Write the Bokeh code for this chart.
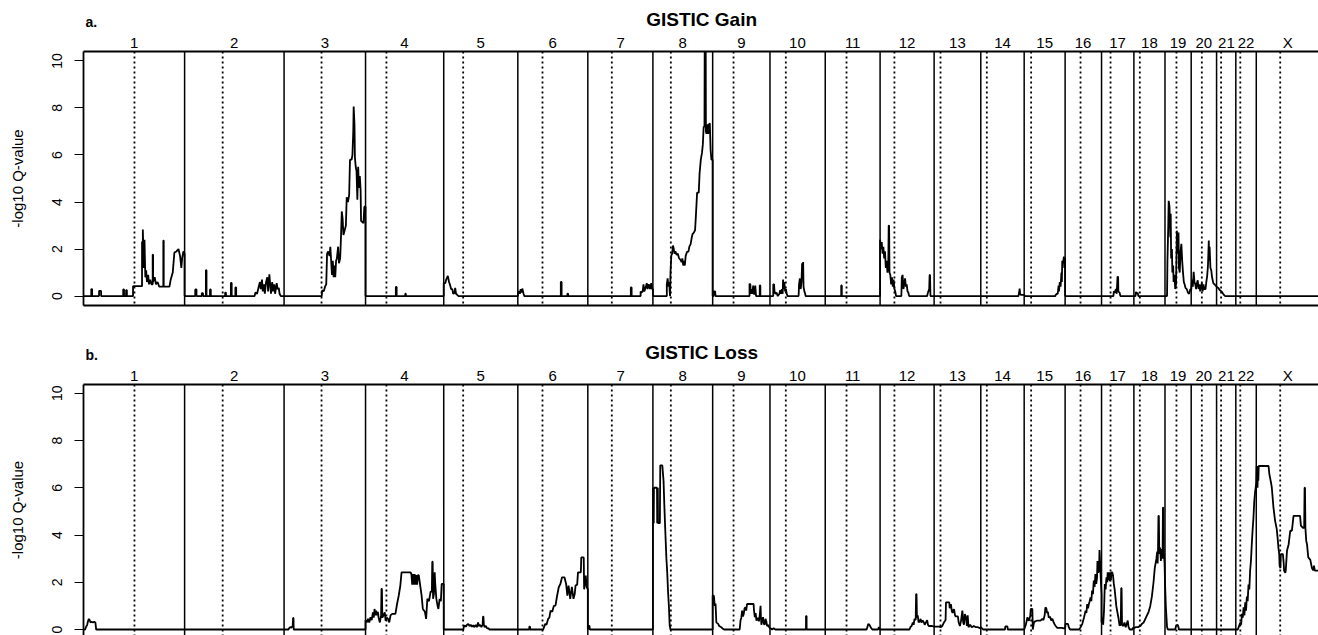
from bokeh.plotting import figure
from bokeh.models import Range1d, LinearAxis, FixedTicker, Span, Label
from bokeh.layouts import column
from bokeh.embed import file_html
from bokeh.resources import INLINE

# ---------------- data ----------------
chrom_names = ["1", "2", "3", "4", "5", "6", "7", "8", "9", "10", "11", "12",
               "13", "14", "15", "16", "17", "18", "19", "20", "21", "22", "X"]
chrom_len_mb = [247, 243, 199, 191, 181, 171, 159, 146, 140, 135, 134, 132,
                114, 106, 100, 89, 79, 76, 64, 62, 47, 50, 155]
centromere_mb = [124.5, 93, 91.5, 51, 47.5, 60.3, 58.6, 43.8, 51, 38.7, 52, 35,
                 15.6, 14.7, 17, 37.7, 22, 14.5, 28, 26, 11, 11, 58.5]
y_ticks = [0, 2, 4, 6, 8, 10]

# GISTIC gain profile: (genome position in Mb, -log10 q)
gain_profile = [
    (0, 0), (19, 0), (19, 0.3), (21, 0.3), (21, 0), (38, 0), (38, 0.22), (43, 0.22), (43, 0),
    (97, 0), (97, 0.28), (99, 0.28), (99, 0), (104, 0), (104, 0.25), (106, 0.25), (106, 0),
    (121, 0), (121, 0.42), (143, 0.42), (143, 2.3), (145, 2.3), (145, 2.83), (147, 1.2),
    (149, 2.4), (151, 0.8), (153, 1.1), (155, 0.6), (158, 0.9), (160, 0.5), (163, 0.7),
    (166, 0.5), (169, 0.5), (169, 1.76), (170, 1.76), (170, 0.6), (174, 0.8), (177, 0.5),
    (181, 0.6), (185, 0.4), (195, 0.4), (195, 2.36), (196, 2.36), (196, 0.4), (210, 0.4),
    (213, 0.7), (218, 1.0), (222, 1.85), (227, 1.9), (232, 2.0), (236, 1.7), (239, 1.2),
    (241, 1.6), (244, 1.9), (247, 1.8), (247, 0),
    (273, 0), (273, 0.28), (276, 0.28), (276, 0), (289, 0), (289, 0.12), (292, 0.12), (292, 0),
    (299, 0), (299, 1.1), (300.5, 1.1), (300.5, 0), (309, 0), (309, 0.28), (311, 0.28), (311, 0),
    (346, 0), (346, 0.15), (348, 0.15), (348, 0), (360, 0), (360, 0.56), (362, 0.56), (362, 0),
    (371, 0), (371, 0.37), (373, 0.37), (373, 0), (418, 0), (420, 0.15), (424, 0.1), (428, 0.4),
    (431, 0.6), (433, 0.3), (436, 0.7), (438, 0.2), (441, 0.5), (443, 0.1), (446, 0.6),
    (449, 0.8), (451, 0.2), (454, 0.93), (456, 0.5), (458, 0.1), (461, 0.6), (463, 0.2),
    (466, 0.5), (468, 0.1), (472, 0.55), (474, 0.3), (477, 0.35), (479, 0.1), (482, 0), (490, 0),
    (582, 0), (583, 0.25), (587, 0.2), (590, 0.4), (593, 0.5), (595, 1.8), (598, 1.9),
    (601, 1.7), (603, 2.1), (605, 1.5), (607, 0.9), (609, 1.5), (611, 0.8), (613, 1.3),
    (615, 0.8), (617, 1.5), (619, 1.6), (622, 2.1), (624, 1.4), (627, 1.6), (629, 2.5),
    (631, 3.6), (633, 3.3), (635, 2.6), (638, 2.8), (641, 3.0), (643, 4.2), (646, 4.0),
    (649, 4.3), (651, 5.8), (655, 5.8), (657, 6.0), (659, 7.0), (660, 8.06), (662, 7.3),
    (663, 5.9), (665, 5.5), (667, 5.3), (669, 4.1), (671, 5.5), (673, 4.6), (675, 5.1),
    (677, 4.5), (678, 3.2), (684, 3.1), (686, 3.8), (689, 3.8), (689, 0),
    (763, 0), (763, 0.39), (765, 0.39), (765, 0), (786, 0), (786, 0.1), (787.5, 0.1), (787.5, 0),
    (880, 0), (880, 0.55), (884, 0.55), (886, 0.7), (890, 0.86), (893, 0.6), (895, 0.5),
    (898, 0.3), (901, 0.3), (903, 0.1), (906, 0.12), (908, 0.35), (910, 0.1), (913, 0.05),
    (916, 0), (1061, 0),
    (1062, 0.15), (1064, 0.2), (1066, 0.1), (1068, 0.3), (1070, 0.15), (1072, 0.32),
    (1075, 0.1), (1077, 0), (1166, 0), (1166, 0.6), (1168, 0.6), (1168, 0), (1182, 0),
    (1182, 0.1), (1184, 0.1), (1184, 0), (1232, 0),
    (1337, 0), (1337, 0.37), (1339, 0.37), (1339, 0), (1361, 0), (1361, 0.2), (1363, 0.15),
    (1366, 0.2), (1368, 0.5), (1370, 0.2), (1373, 0.35), (1376, 0.55), (1378, 0.3),
    (1381, 0.5), (1384, 0.3), (1387, 0.55), (1389, 0.3), (1391, 0.3), (1391, 0),
    (1425, 0), (1425, 0.5), (1427, 0.75), (1429, 0.4), (1431, 0.6), (1432, 0.2), (1433, 0),
    (1434, 1.0), (1436, 1.73), (1438, 1.8), (1440, 2.15), (1442, 2.0), (1444, 1.8),
    (1446, 1.9), (1449, 1.75), (1452, 1.8), (1455, 1.6), (1458, 1.55), (1461, 1.45),
    (1463, 1.6), (1465, 1.3), (1467, 1.5), (1469, 1.3), (1471, 1.7), (1474, 1.87),
    (1478, 1.9), (1480, 2.1), (1483, 2.2), (1486, 2.5), (1488, 2.64), (1491, 2.7),
    (1494, 2.8), (1496, 3.4), (1499, 4.4), (1503, 4.4), (1505, 5.2), (1508, 5.8),
    (1511, 6.1), (1513, 6.45), (1515, 7.2), (1517, 7.2), (1517.5, 10.6), (1520, 10.6),
    (1520.5, 7.0), (1522, 6.9), (1524, 7.3), (1526, 6.9), (1528, 7.3), (1530, 7.35),
    (1532, 6.2), (1534, 5.8), (1537, 5.8), (1537, 0),
    (1539, 0), (1540, 0.2), (1543, 0.2), (1544, 0), (1627, 0), (1627, 0.53), (1629, 0.5),
    (1630, 0.1), (1632, 0.3), (1634, 0.1), (1636, 0.45), (1637, 0.1), (1640, 0.1),
    (1641, 0.45), (1643, 0), (1652, 0), (1652, 0.45), (1653.5, 0.45), (1653.5, 0), (1677, 0),
    (1685, 0), (1685, 0.5), (1687, 0.5), (1688, 0.2), (1690, 0.1), (1693, 0.15), (1696, 0),
    (1700, 0.1), (1702, 0.25), (1704, 0.1), (1706, 0.3), (1708, 0.1), (1709, 0.7),
    (1710, 0.3), (1712, 0.6), (1714, 0.2), (1716, 0.3), (1718, 0.1), (1720, 0), (1747, 0),
    (1748, 0.5), (1750, 0.75), (1752, 0.3), (1754, 0.6), (1755.5, 1.4), (1757, 1.0),
    (1758, 1.45), (1759, 0.4), (1761, 0.2), (1763, 0.1), (1764, 0), (1812, 0),
    (1851, 0), (1851, 0.45), (1852.5, 0.45), (1852.5, 0), (1946, 0),
    (1946, 2.4), (1948, 2.0), (1950, 2.3), (1952, 1.8), (1954, 2.1), (1956, 1.6), (1958, 1.9),
    (1960, 1.2), (1962, 1.5), (1964, 1.0), (1966, 1.3), (1967, 3.0), (1968, 3.0), (1969, 1.0),
    (1971, 0.9), (1973, 0.5), (1975, 0.8), (1977, 0.4), (1979, 0.7), (1981, 0.3), (1983, 0.2),
    (1985, 0), (1998, 0), (1999, 0.8), (2001, 0.9), (2003, 0.3), (2005, 0.5), (2007, 0.75),
    (2009, 0.4), (2011, 0.5), (2013, 0.2), (2015, 0.15), (2017, 0), (2061, 0), (2062, 0.1),
    (2064, 0.2), (2066, 0.3), (2067, 0.9), (2068, 0.9), (2069, 0), (2078, 0),
    (2284, 0), (2285, 0.1), (2287, 0.32), (2288, 0.1), (2290, 0.05), (2298, 0.05), (2300, 0),
    (2374, 0), (2375, 0.05), (2378, 0.1), (2380, 0.1), (2382, 0.45), (2383, 0.2), (2385, 0.6),
    (2387, 0.4), (2389, 1.0), (2390, 0.6), (2391, 1.5), (2393, 1.4), (2395, 1.68), (2396, 1.2),
    (2397, 1.6), (2398, 1.6), (2398, 0),
    (2516, 0), (2517, 0.2), (2520, 0.15), (2522, 0.3), (2524, 0.1), (2526, 0.82),
    (2527.5, 0.82), (2528, 0.2), (2531, 0.15), (2533, 0), (2570, 0),
    (2571, 0.18), (2573, 0.1), (2575, 0.15), (2577, 0), (2647, 0),
    (2648, 1.5), (2650, 3.0), (2651, 4.05), (2653, 3.8), (2655, 2.5), (2656, 3.5), (2657, 1.6),
    (2659, 2.0), (2660, 1.0), (2662, 1.3), (2663, 0.6), (2665, 0.9), (2667, 0.3), (2669, 0.5),
    (2671, 2.78), (2673, 1.8), (2675, 2.7), (2676, 1.2), (2678, 1.0), (2680, 1.9),
    (2682, 2.22), (2684, 1.5), (2686, 1.0), (2688, 0.6), (2690, 0.5), (2692, 0.35),
    (2695, 0.3), (2698, 0.15), (2701, 0.1), (2704, 0.3), (2706, 0.25),
    (2708, 0.7), (2710, 0.4), (2712, 1.03), (2714, 0.6), (2716, 0.5), (2718, 0.3), (2720, 0.55),
    (2722, 0.67), (2724, 0.3), (2726, 0.5), (2728, 0.2), (2730, 0.4), (2732, 0.55), (2734, 0.2),
    (2736, 0.5), (2738, 0.3), (2741, 0.3), (2743, 0.6), (2745, 0.85), (2747, 1.3), (2749, 2.36),
    (2750, 1.5), (2751, 2.1), (2753, 1.2), (2755, 1.1), (2757, 0.8), (2760, 0.55), (2763, 0.5),
    (2765, 0.46), (2768, 0.4), (2772, 0.35), (2776, 0.25), (2780, 0.2), (2784, 0.1),
    (2787, 0.03), (2789, 0), (3020, 0),
]

# GISTIC loss profile: (genome position in Mb, -log10 q)
loss_profile = [
    (0, 0), (4, 0), (6, 0.1), (9, 0.2), (11, 0.35), (13, 0.45), (15, 0.4), (17, 0.3), (20, 0.33),
    (23, 0.3), (26, 0.33), (29, 0.3), (31, 0), (501, 0), (502, 0.05), (505, 0.1), (508, 0.08),
    (511, 0.15), (512, 0.49), (513, 0.49), (513.5, 0), (689, 0),
    (689, 0.4), (692, 0.3), (695, 0.45), (698, 0.3), (701, 0.52), (704, 0.4), (707, 0.73),
    (709, 0.5), (711, 0.87), (713, 0.6), (715, 0.8), (717, 0.6), (719, 0.75), (721, 0.5),
    (724, 0.3), (727, 0.6), (728, 1.72), (729, 1.72), (730, 0.5), (733, 0.6), (736, 0.73),
    (738, 0.38), (741, 0.5), (744, 0.45), (747, 0.3), (750, 0.6), (754, 0.66), (762, 0.66),
    (766, 1.08), (770, 1.43), (774, 1.86), (777, 2.42), (799, 2.42), (801, 2.35), (803, 1.9),
    (805, 2.35), (807, 1.9), (809, 2.35), (811, 1.9), (813, 2.3), (815, 1.9), (817, 2.3),
    (819, 2.3), (823, 1.8), (826, 1.43), (829, 0.87), (834, 0.75), (837, 0.45), (840, 1.3),
    (844, 1.2), (848, 1.6), (851, 1.6), (852, 2.87), (853, 2.87), (854, 1.3), (856, 1.5),
    (858, 2.42), (859, 2.0), (862, 1.3), (865, 1.0), (867, 0.87), (870, 1.3), (873, 1.2),
    (875, 1.93), (880, 1.93), (880, 0),
    (928, 0), (929, 0.1), (931, 0.17), (934, 0.12), (937, 0.2), (940, 0.24), (943, 0.15),
    (946, 0.2), (949, 0.12), (952, 0.18), (955, 0.1), (958, 0.2), (961, 0.1), (964, 0.3),
    (966, 0.15), (969, 0.2), (972, 0.1), (975, 0.2), (976, 0.55), (977, 0.55), (978, 0.2),
    (980, 0.1), (983, 0.15), (986, 0.05), (990, 0.05), (991, 0), (1089, 0), (1089, 0.12),
    (1091, 0.12), (1091, 0), (1123, 0), (1125, 0.1), (1128, 0.24), (1131, 0.2), (1135, 0.45),
    (1138, 0.5), (1141, 0.8), (1145, 0.75), (1149, 1.0), (1153, 1.01), (1157, 1.43),
    (1161, 1.79), (1165, 1.93), (1169, 2.21), (1175, 2.21), (1179, 1.93), (1182, 1.43),
    (1185, 1.86), (1189, 1.3), (1193, 1.8), (1197, 1.3), (1200, 1.5), (1202, 1.86),
    (1206, 1.9), (1208, 2.42), (1215, 2.42), (1216, 3.05), (1222, 3.05), (1223, 1.7),
    (1225, 2.0), (1227, 2.28), (1229, 1.8), (1232, 1.7), (1232, 0),
    (1233, 0.15), (1236, 0.15), (1237, 0), (1391, 0),
    (1391, 4.5), (1391.5, 6.0), (1392, 4.5), (1392.5, 6.0), (1393, 4.5), (1393.5, 6.0),
    (1401, 6.0), (1401.5, 4.5), (1402, 6.0), (1402.5, 4.5), (1403, 6.0), (1403.5, 4.5),
    (1408, 4.5), (1409, 6.95), (1414, 6.95), (1416, 6.5), (1417, 6.3), (1419, 5.23),
    (1421, 4.3), (1424, 3.0), (1426, 2.42), (1428, 1.6), (1430, 1.01), (1432, 0.17),
    (1434, 0), (1537, 0),
    (1537, 1.43), (1540, 1.43), (1542, 1.0), (1544, 1.1), (1546, 0.3), (1550, 0.25),
    (1553, 0.15), (1558, 0.1), (1562, 0.03), (1565, 0), (1603, 0), (1605, 0.38), (1607, 0.5),
    (1609, 0.8), (1611, 0.55), (1613, 0.67), (1615, 0.9), (1617, 0.94), (1619, 0.8),
    (1621, 1.08), (1637, 1.08), (1638, 0.8), (1640, 0.52), (1642, 0.7), (1644, 0.38),
    (1647, 0.5), (1650, 0.35), (1652, 0.6), (1654, 1.0), (1655, 0.5), (1656, 0.2),
    (1658, 0.4), (1660, 0.52), (1662, 0.25), (1664, 0.2), (1666, 0.45), (1668, 0.35),
    (1670, 0.15), (1673, 0.2), (1675, 0.1), (1677, 0.05),
    (1679, 0.05), (1682, 0), (1686, 0.05), (1690, 0), (1765, 0), (1765, 0.57), (1766.5, 0.57),
    (1766.5, 0), (1812, 0),
    (1913, 0), (1915, 0.1), (1917, 0.24), (1920, 0.2), (1923, 0.1), (1927, 0), (1941, 0),
    (1943, 0.1), (1945, 0), (2018, 0), (2020, 0.1), (2023, 0.15), (2026, 0.3), (2028, 0.2),
    (2030, 0.45), (2033, 0.4), (2034, 1.5), (2035, 1.5), (2036, 0.5), (2038, 0.6), (2040, 0.3),
    (2043, 0.35), (2045, 0.45), (2047, 0.3), (2050, 0.38), (2053, 0.3), (2055, 0.2),
    (2058, 0.3), (2061, 0.4), (2063, 0.2), (2065, 0.15), (2070, 0.15), (2073, 0.15),
    (2078, 0.12), (2090, 0.12), (2094, 0.1), (2098, 0.15), (2102, 0.3), (2106, 0.4),
    (2107, 1.15), (2115, 1.15), (2116, 0.9), (2119, 1.08), (2121, 0.8), (2123, 0.7),
    (2125, 0.84), (2127, 0.84), (2129, 0.6), (2131, 0.56), (2136, 0.56), (2138, 0.3),
    (2141, 0.15), (2144, 0.4), (2147, 0.8), (2149, 0.3), (2151, 0.2), (2153, 0.65),
    (2156, 0.5), (2158, 0.15), (2160, 0.6), (2162, 0.1), (2166, 0.2), (2170, 0.1),
    (2175, 0.15), (2180, 0.1), (2185, 0.1), (2190, 0.05), (2192, 0.1),
    (2195, 0.05), (2198, 0), (2251, 0), (2252, 0.13), (2257, 0.13), (2258, 0), (2298, 0),
    (2302, 0.2), (2306, 0.52), (2308, 0.4), (2310, 0.38), (2313, 0.6), (2314, 0.87),
    (2318, 0.87), (2319, 0), (2320, 0.1), (2322, 0.3), (2325, 0.35), (2330, 0.38),
    (2338, 0.38), (2342, 0.45), (2345, 0.4), (2348, 0.6), (2350, 0.94), (2352, 0.9),
    (2354, 0.7), (2356, 0.75), (2358, 0.5), (2361, 0.55), (2364, 0.38), (2367, 0.45),
    (2370, 0.3), (2373, 0.2), (2375, 0.15), (2379, 0.07), (2390, 0.07), (2395, 0.05),
    (2398, 0.05),
    (2399, 0.24), (2405, 0.24), (2407, 0.1), (2410, 0), (2432, 0), (2436, 0.1), (2440, 0.24),
    (2444, 0.5), (2448, 0.8), (2450, 0.7), (2452, 1.08), (2454, 0.9), (2456, 1.08),
    (2458, 1.2), (2460, 1.36), (2462, 1.2), (2464, 1.65), (2466, 1.5), (2468, 2.07),
    (2470, 1.8), (2472, 2.35), (2474, 1.93), (2476, 2.2), (2477, 2.9), (2479, 2.4),
    (2481, 2.5), (2482, 3.36), (2484, 2.6), (2486, 1.8), (2487, 1.5),
    (2487, 0.3), (2489, 0.5), (2491, 0.2), (2493, 0.8), (2495, 1.93), (2497, 1.7),
    (2499, 2.21), (2501, 2.0), (2502, 2.42), (2504, 2.1), (2505, 2.42), (2507, 2.05),
    (2508, 2.42), (2510, 2.1), (2511, 2.42), (2513, 2.42), (2515, 2.3), (2517, 1.93),
    (2519, 1.7), (2521, 1.36), (2523, 1.0), (2525, 0.8), (2528, 0.52), (2531, 0.17),
    (2534, 0.2), (2535, 1.75), (2536, 1.75), (2537, 0.2), (2540, 0.15), (2543, 0.3),
    (2546, 0.1), (2548, 0.2), (2551, 0.38), (2553, 0.1), (2556, 0), (2562, 0), (2564, 0.08),
    (2566, 0.05),
    (2570, 0.1), (2576, 0.1), (2582, 0.15), (2586, 0.25), (2590, 0.3), (2594, 0.45),
    (2598, 0.6), (2602, 0.75), (2606, 1.0), (2610, 1.4), (2614, 2.0), (2617, 2.6), (2619, 2.8),
    (2621, 3.0), (2623, 3.3), (2624, 2.8), (2625, 3.4), (2626, 4.81), (2627, 4.81),
    (2628, 3.2), (2630, 3.47), (2632, 2.9), (2634, 3.4), (2636, 3.0), (2637, 5.16),
    (2638, 5.16), (2639, 3.3), (2641, 2.8), (2642, 2.0),
    (2644, 1.0), (2647, 0.1), (2649, 0), (2667, 0), (2669, 0.15), (2673, 0.2), (2675, 0.1),
    (2676, 0), (2820, 0),
    (2822, 0.1), (2826, 0.3), (2828, 0.2), (2830, 0.66), (2832, 0.5), (2834, 0.94),
    (2836, 0.6), (2838, 1.15), (2840, 0.8), (2842, 1.4), (2844, 1.2), (2846, 1.9),
    (2848, 1.7), (2850, 2.5), (2852, 2.9), (2854, 3.6), (2856, 4.2), (2858, 4.7), (2860, 5.4),
    (2862, 5.8), (2865, 6.2),
    (2866, 6.92), (2868, 6.0), (2869, 6.92), (2870, 6.3), (2871, 6.92), (2895, 6.92),
    (2897, 6.57), (2901, 6.22), (2903, 6.0), (2907, 5.16), (2911, 4.6), (2915, 4.25),
    (2917, 3.9), (2919, 3.47), (2921, 3.2), (2922, 2.7), (2924, 2.6), (2925, 3.19),
    (2930, 3.19), (2932, 2.8), (2933, 2.49), (2936, 2.4), (2937, 2.5), (2940, 3.33),
    (2944, 3.6), (2948, 4.18), (2952, 4.18), (2956, 4.81), (2972, 4.81), (2974, 4.4),
    (2979, 4.3), (2982, 4.3), (2983, 6.0), (2984, 6.0), (2985, 4.3), (2987, 3.76),
    (2989, 3.6), (2992, 3.05), (2997, 2.95), (3001, 2.6), (3004, 2.5), (3006, 2.7),
    (3008, 2.49), (3020, 2.49),
]

# ---------------- derived positions ----------------
starts = []
acc = 0
for L in chrom_len_mb:
    starts.append(acc)
    acc += L
genome_total = acc
centers = [int(round(s + L / 2)) for s, L in zip(starts, chrom_len_mb)]
centros = [s + c for s, c in zip(starts, centromere_mb)]

FONT = "Liberation Sans"
W = 1318
LEFT = 83
X_END = 3017  # visible genome extent (the right edge is cropped, as in the reference)
LW = 1.8
x_range = Range1d(0, X_END)


def make_header(title, letter, height, title_y, letter_y):
    h = figure(width=W, height=height, x_range=x_range, y_range=Range1d(0, 1),
               x_axis_type=None, y_axis_type=None, output_backend="svg",
               toolbar_location=None, min_border_left=LEFT, min_border_right=0,
               min_border_top=0, min_border_bottom=0)
    h.outline_line_color = None
    h.add_layout(Label(x=2, y=letter_y, x_units="screen", y_units="screen",
                       text=letter, text_font=FONT, text_font_size="14px",
                       text_font_style="bold", text_color="black",
                       text_baseline="middle", text_align="left"))
    h.add_layout(Label(x=genome_total / 2, y=title_y, x_units="data",
                       y_units="screen", text=title, text_font=FONT,
                       text_font_size="19px", text_font_style="bold",
                       text_color="black", text_baseline="middle",
                       text_align="center"))
    return h


def make_panel(profile, height, y0, y1, top_border, bottom_border, bottom_line):
    p = figure(width=W, height=height, x_range=x_range,
               y_range=Range1d(y0, y1), x_axis_type=None,
               output_backend="svg", toolbar_location=None,
               min_border_left=LEFT, min_border_right=0,
               min_border_top=top_border, min_border_bottom=bottom_border)
    p.outline_line_color = None
    p.ygrid.grid_line_color = None

    ax = p.yaxis[0]
    ax.ticker = FixedTicker(ticks=y_ticks)
    ax.axis_label = "-log10 Q-value"
    ax.axis_label_text_font = FONT
    ax.axis_label_text_font_size = "15px"
    ax.axis_label_text_font_style = "normal"
    ax.axis_label_text_color = "black"
    ax.axis_label_standoff = 24
    ax.major_label_orientation = "vertical"
    ax.major_label_text_font = FONT
    ax.major_label_text_font_size = "14px"
    ax.major_label_text_color = "black"
    ax.major_label_standoff = 12
    ax.major_tick_out = 9
    ax.major_tick_in = 0
    ax.minor_tick_out = 0
    ax.minor_tick_in = 0
    ax.major_tick_line_color = "black"
    ax.axis_line_color = "black"
    ax.axis_line_width = LW

    top = LinearAxis(ticker=FixedTicker(ticks=centers),
                     major_label_overrides={c: n for c, n in zip(centers, chrom_names)},
                     major_tick_out=0, major_tick_in=0,
                     minor_tick_out=0, minor_tick_in=0,
                     major_label_standoff=1,
                     major_label_text_font=FONT,
                     major_label_text_font_size="15px",
                     major_label_text_color="black",
                     axis_line_color="black", axis_line_width=LW)
    p.add_layout(top, "above")

    if bottom_line:
        bot = LinearAxis(ticker=FixedTicker(ticks=[]),
                         major_tick_out=0, major_tick_in=0,
                         minor_tick_out=0, minor_tick_in=0,
                         major_label_text_font_size="0px",
                         axis_line_color="black", axis_line_width=LW)
        p.add_layout(bot, "below")

    for b in starts[1:]:
        p.add_layout(Span(location=b, dimension="height", line_color="black",
                          line_width=1.5))
    for c in centros:
        p.add_layout(Span(location=c, dimension="height", line_color="black",
                          line_width=1.8, line_dash="2 3"))

    xs = [pt[0] for pt in profile]
    ys = [pt[1] for pt in profile]
    p.line(xs, ys, line_color="black", line_width=LW)
    return p


# page rows: header a (0-30), panel a (30-317, frame 50-305),
#            header b (317-363), panel b (363-635, frame 383-635)
h1 = make_header("GISTIC Gain", "a.", 30, 11, 8.5)
p1 = make_panel(gain_profile, 287, -0.4, 10.4, 20, 12, True)
h2 = make_header("GISTIC Loss", "b.", 46, 11, 8.5)
p2 = make_panel(loss_profile, 272, -0.253, 10.37, 20, 0, False)

layout = column(h1, p1, h2, p2, spacing=0)
open("out.html", "w").write(file_html(layout, INLINE))
